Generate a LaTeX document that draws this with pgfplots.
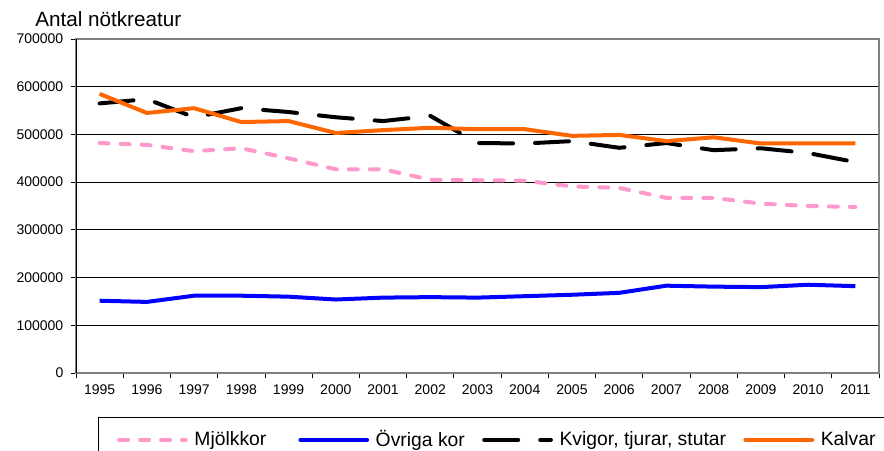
\documentclass[border=0pt]{standalone}
\usepackage{pgfplots}
\pgfplotsset{compat=1.18}
\usepackage{fontspec}
\setmainfont{Liberation Sans}
\definecolor{pinkline}{RGB}{255,153,204}
\definecolor{blueline}{RGB}{0,0,255}
\definecolor{orangeline}{RGB}{255,102,0}
\begin{document}
\begin{tikzpicture}
\useasboundingbox (0,0) rectangle (663pt,337.5pt);
\clip (0,0) rectangle (663pt,337.5pt);
\node[anchor=base west, font=\fontsize{15.5}{17}\selectfont, inner sep=0pt] at (26.25pt,317.5pt) {Antal nötkreatur};
\begin{axis}[
  at={(57pt,57.75pt)}, anchor=south west,
  scale only axis, width=602.25pt, height=250.5pt,
  xmin=-0.5, xmax=16.5, ymin=0, ymax=700000,
  xtick={0,1,...,16},
  xticklabels={1995,1996,1997,1998,1999,2000,2001,2002,2003,2004,2005,2006,2007,2008,2009,2010,2011},
  major x tick style={draw=none},
  minor xtick={-0.5,0.5,...,16.5},
  ytick={0,100000,...,700000},
  ymajorgrids, major grid style={black, line width=0.6pt},
  tick align=outside, tick pos=left,
  major tick length=4pt, minor tick length=4pt,
  every tick/.style={black, line width=0.6pt},
  axis line style={gray, line width=0.9pt},
  scaled y ticks=false,
  yticklabel style={/pgf/number format/fixed, /pgf/number format/1000 sep={}, xshift=-2pt},
  xticklabel style={yshift=-1pt},
  /pgf/number format/assume math mode=true,
  tick label style={font=\fontsize{10.5}{12}\selectfont},
  legend image code/.code={\draw[#1, line cap=round] (0pt,0pt) -- (50pt,0pt);},
  legend style={at={(0.0274,-0.1317)}, anchor=north west, legend columns=4,
    draw=black, line width=0.6pt, font=\fontsize{14.5}{16}\selectfont,
    inner xsep=14pt, inner ysep=8pt,
    /tikz/every even column/.append style={column sep=11pt},
    /tikz/every odd column/.append style={column sep=3pt}},
]
\addplot[pinkline, line width=3pt, line cap=round, dash pattern=on 6.75pt off 9pt] coordinates {
(0,482000) (1,478000) (2,465000) (3,471000) (4,450000) (5,427000) (6,427000) (7,405000) (8,404000) (9,403000) (10,391000) (11,388000) (12,367000) (13,367000) (14,355000) (15,350000) (16,348000)};
\addlegendentry{Mjölkkor\hspace*{11pt}}
\addplot[blueline, line width=3pt, line join=round] coordinates {
(0,151500) (1,149000) (2,162000) (3,162000) (4,160000) (5,154000) (6,158000) (7,159000) (8,158000) (9,161000) (10,164000) (11,168000) (12,183000) (13,181000) (14,180000) (15,185000) (16,182000)};
\addlegendentry{Övriga kor}
\addplot[black, line width=3pt, line cap=round, dash pattern=on 25.5pt off 16.5pt] coordinates {
(0,565000) (1,574000) (2,536000) (3,555000) (4,547000) (5,536000) (6,528000) (7,539000) (8,482000) (9,481000) (10,486000) (11,472000) (12,482000) (13,467000) (14,471000) (15,461000) (16,442000)};
\addlegendentry{Kvigor, tjurar, stutar}
\addplot[orangeline, line width=3pt, line join=round] coordinates {
(0,585000) (1,545000) (2,555000) (3,526000) (4,528000) (5,503000) (6,509000) (7,514000) (8,511000) (9,511000) (10,497000) (11,499000) (12,486000) (13,494000) (14,481000) (15,481000) (16,481000)};
\addlegendentry{Kalvar\hspace*{30pt}}
\draw[black, line width=0.75pt] (rel axis cs:0,0) -- (rel axis cs:0,1);
\end{axis}
\end{tikzpicture}
\end{document}
